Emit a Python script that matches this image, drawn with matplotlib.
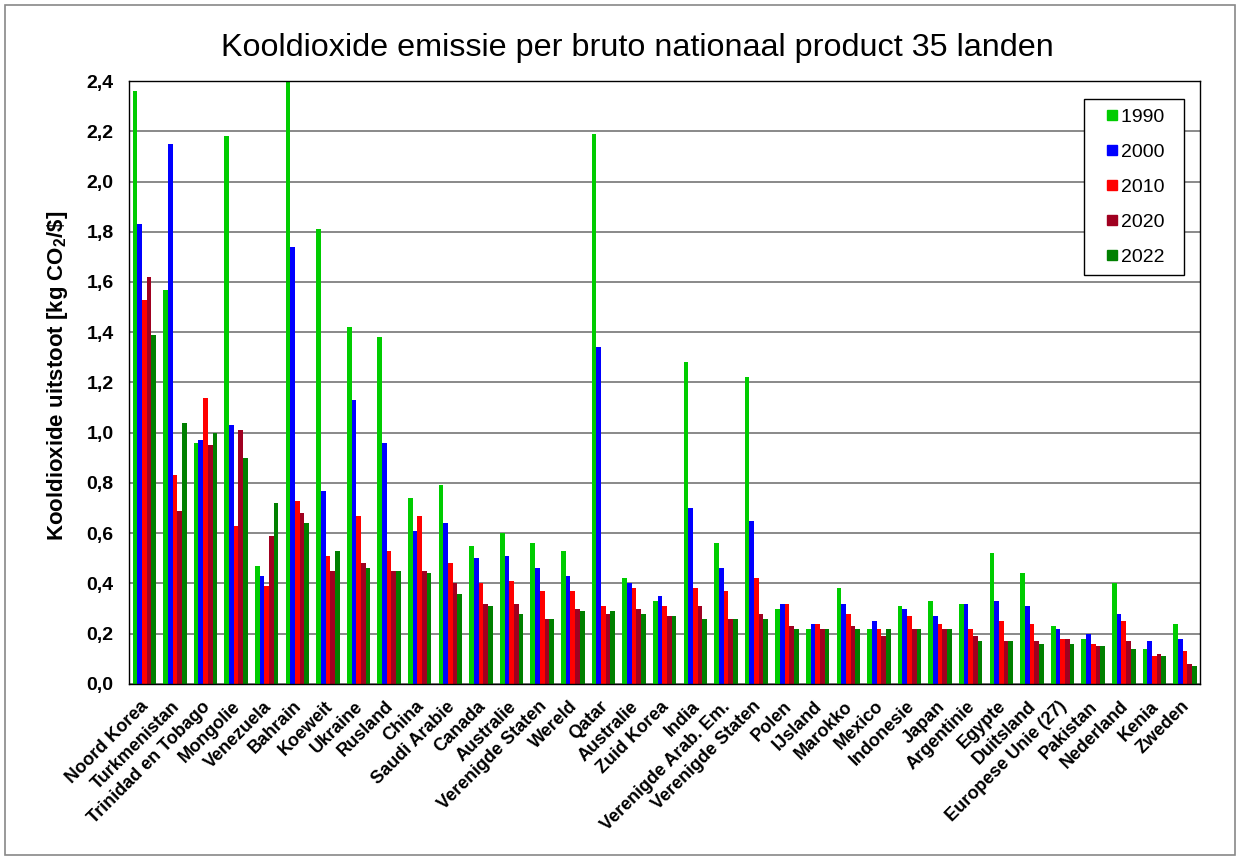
import numpy as np
import matplotlib.pyplot as plt
import matplotlib.transforms as mtransforms
from matplotlib.patches import Rectangle
from matplotlib.lines import Line2D

plt.rcParams['font.family'] = ['Liberation Sans', 'DejaVu Sans']
plt.rcParams['mathtext.fontset'] = 'custom'
plt.rcParams['mathtext.rm'] = 'Liberation Sans:bold'
plt.rcParams['mathtext.default'] = 'rm'

# landen, van links naar rechts
landen = ['Noord Korea', 'Turkmenistan', 'Trinidad en Tobago', 'Mongolie', 'Venezuela',
          'Bahrain', 'Koeweit', 'Ukraine', 'Rusland', 'China', 'Saudi Arabie', 'Canada',
          'Australie', 'Verenigde Staten', 'Wereld', 'Qatar', 'Australie', 'Zuid Korea',
          'India', 'Verenigde Arab. Em.', 'Verenigde Staten', 'Polen', 'IJsland', 'Marokko',
          'Mexico', 'Indonesie', 'Japan', 'Argentinie', 'Egypte', 'Duitsland',
          'Europese Unie (27)', 'Pakistan', 'Nederland', 'Kenia', 'Zweden']

jaren = ['1990', '2000', '2010', '2020', '2022']

# kg CO2 per $ bnp
y1990 = [2.36, 1.57, 0.96, 2.18, 0.47, 2.45, 1.81, 1.42, 1.38, 0.74, 0.79, 0.55,
         0.60, 0.56, 0.53, 2.19, 0.42, 0.33, 1.28, 0.56, 1.22, 0.30, 0.22, 0.38,
         0.22, 0.31, 0.33, 0.32, 0.52, 0.44, 0.23, 0.18, 0.40, 0.14, 0.24]
y2000 = [1.83, 2.15, 0.97, 1.03, 0.43, 1.74, 0.77, 1.13, 0.96, 0.61, 0.64, 0.50,
         0.51, 0.46, 0.43, 1.34, 0.40, 0.35, 0.70, 0.46, 0.65, 0.32, 0.24, 0.32,
         0.25, 0.30, 0.27, 0.32, 0.33, 0.31, 0.22, 0.20, 0.28, 0.17, 0.18]
y2010 = [1.53, 0.83, 1.14, 0.63, 0.39, 0.73, 0.51, 0.67, 0.53, 0.67, 0.48, 0.40,
         0.41, 0.37, 0.37, 0.31, 0.38, 0.31, 0.38, 0.37, 0.42, 0.32, 0.24, 0.28,
         0.22, 0.27, 0.24, 0.22, 0.25, 0.24, 0.18, 0.16, 0.25, 0.11, 0.13]
y2020 = [1.62, 0.69, 0.95, 1.01, 0.59, 0.68, 0.45, 0.48, 0.45, 0.45, 0.40, 0.32,
         0.32, 0.26, 0.30, 0.28, 0.30, 0.27, 0.31, 0.26, 0.28, 0.23, 0.22, 0.23,
         0.19, 0.22, 0.22, 0.19, 0.17, 0.17, 0.18, 0.15, 0.17, 0.12, 0.08]
y2022 = [1.39, 1.04, 1.00, 0.90, 0.72, 0.64, 0.53, 0.46, 0.45, 0.44, 0.36, 0.31,
         0.28, 0.26, 0.29, 0.29, 0.28, 0.27, 0.26, 0.26, 0.26, 0.22, 0.22, 0.22,
         0.22, 0.22, 0.22, 0.17, 0.17, 0.16, 0.16, 0.15, 0.14, 0.11, 0.07]

series = [y1990, y2000, y2010, y2020, y2022]
kleuren = ['#00CC00', '#0000FF', '#FF0000', '#A00020', '#008000']

fig = plt.figure(figsize=(12.4, 8.6), dpi=100)
fig.patches.append(Rectangle((0.004, 0.006), 0.992, 0.988, transform=fig.transFigure,
                             fill=False, edgecolor='#888888', linewidth=1.2))
ax = fig.add_axes([0.104, 0.2047, 0.864, 0.7011])

x = np.arange(len(landen))
w = 0.153
for i, (vals, kleur, jaar) in enumerate(zip(series, kleuren, jaren)):
  ax.bar(x + (i - 2) * w, vals, width=w, color=kleur, label=jaar, linewidth=0)

ax.set_xlim(-0.5, len(landen) - 0.5)
ax.set_ylim(0, 2.4)
ax.set_yticks(np.arange(0, 2.41, 0.2))
ax.set_yticklabels([('%.1f' % v).replace('.', ',') for v in np.arange(0, 2.41, 0.2)],
                   fontsize=14, fontweight='bold')
ax.yaxis.grid(True, color='#808080', linewidth=1.3)
ax.set_axisbelow(True)
ax.tick_params(length=0, pad=11)

ax.set_xticks(x)
ax.set_xticklabels(landen, rotation=45, ha='right', rotation_mode='anchor',
                   fontsize=13, fontweight='bold')
ax.tick_params(axis='x', pad=5)
# labels iets naar links/onder schuiven zoals in het origineel
shift = mtransforms.ScaledTranslation(-0.04, -0.07, fig.dpi_scale_trans)
for lbl in ax.get_xticklabels():
  lbl.set_transform(lbl.get_transform() + shift)

for s in ax.spines.values():
  s.set_color('black')
  s.set_linewidth(1)

ax.set_ylabel(r'Kooldioxide uitstoot [kg CO$_2$/\$]', fontsize=16, fontweight='bold')
ax.yaxis.set_label_coords(-0.055, 0.511)
fig.text(0.514, 1 - 48 / 860, 'Kooldioxide emissie per bruto nationaal product 35 landen',
         fontsize=23.3, ha='center', va='center')

handles = [Line2D([], [], linestyle='none', marker='s', markersize=7.5,
                  markerfacecolor=k, markeredgecolor=k) for k in kleuren]
leg = ax.legend(handles, [j + '  ' for j in jaren], loc='upper right',
                bbox_to_anchor=(0.985, 0.97), fontsize=14,
                fancybox=False, edgecolor='black', framealpha=1,
                handlelength=1.85, handletextpad=-0.45,
                labelspacing=0.9, borderpad=0.47, borderaxespad=0)
leg.get_frame().set_linewidth(1)

fig.savefig('out.png', dpi=100)
